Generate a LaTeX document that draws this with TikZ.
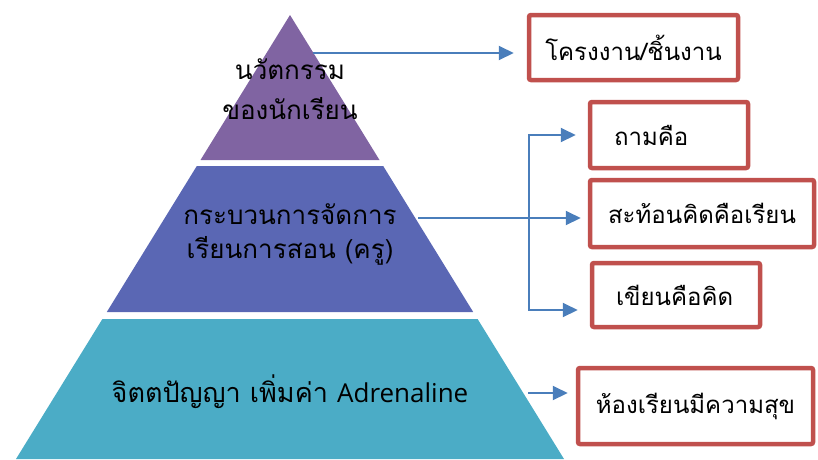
\documentclass[tikz,border=0pt]{standalone}
\usepackage{fontspec}
\newfontfamily\thaifont[Script=Thai]{Loma}
\newfontfamily\latinfont{Open Sans}
\usetikzlibrary{arrows.meta}
\definecolor{tierA}{HTML}{8064A2}
\definecolor{tierB}{HTML}{5A67B4}
\definecolor{tierC}{HTML}{4BACC6}
\definecolor{connblue}{HTML}{4A7EBB}
\definecolor{boxred}{HTML}{C0504D}
\begin{document}
\begin{tikzpicture}[x=1pt,y=-1pt,
  tiertext/.style={font=\thaifont\fontsize{26}{40}\selectfont, align=center, text=black, inner sep=0pt},
  box/.style={draw=boxred, line width=4.5pt, rounded corners=2pt, fill=white,
    font=\thaifont\fontsize{24}{30}\selectfont, inner ysep=0pt, text=black},
  conn/.style={draw=connblue, line width=2pt, -{Triangle[length=15pt,width=14pt]}},
]
\useasboundingbox (0,0) rectangle (818,459);
% pyramid tiers
\fill[tierA] (290,15) -- (379.5,160) -- (200.5,160) -- cycle;
\fill[tierB] (196.8,166) -- (383.2,166) -- (473.2,312) -- (106.8,312) -- cycle;
\fill[tierC] (102.4,319) -- (477.6,319) -- (564,459) -- (16,459) -- cycle;
% tier texts
\node[tiertext] (t1) at (290,89) {นวัตกรรม\\ของนักเรียน};
\node[tiertext, font=\thaifont\fontsize{26}{34}\selectfont] (t2) at (290,234) {กระบวนการจัดการ\\เรียนการสอน (ครู)};
\node[tiertext, font=\thaifont\fontsize{27}{34}\selectfont] (t3) at (290,392) {จิตตปัญญา เพิ่มค่า {\latinfont\fontsize{26}{30}\selectfont Adrenaline}};
% boxes
\node[box, minimum width=209pt, minimum height=65pt] (b1) at (633.5,47.5) {โครงงาน/ชิ้นงาน};
\node[box, minimum height=66pt, inner xsep=24pt, text width=110pt, align=left] (b2) at (669,135) {ถามคือ};
\node[box, minimum width=224pt, minimum height=67pt] (b3) at (702,213.5) {สะท้อนคิดคือเรียน};
\node[box, minimum height=64pt, inner xsep=24pt, text width=120pt, align=left] (b4) at (676,295) {เขียนคือคิด};
\node[box, minimum width=235pt, minimum height=76pt] (b5) at (695.5,406) {ห้องเรียนมีความสุข};
% connector anchors
\coordinate (a1) at (313,53);
\coordinate (m) at (418,218);
\coordinate (j) at (529,218);
\coordinate (a5) at (528,393);
\draw[conn, shorten >=13pt] (a1) -- (b1.west |- a1);
\draw[conn, shorten >=7pt] (m) -- (b3.west |- m);
\draw[conn, shorten >=12pt] (j) |- (b2.west);
\draw[conn, shorten >=12pt] (j) |- ([yshift=-15pt]b4.west);
\draw[conn, shorten >=8pt] (a5) -- (b5.west |- a5);
\end{tikzpicture}
\end{document}
